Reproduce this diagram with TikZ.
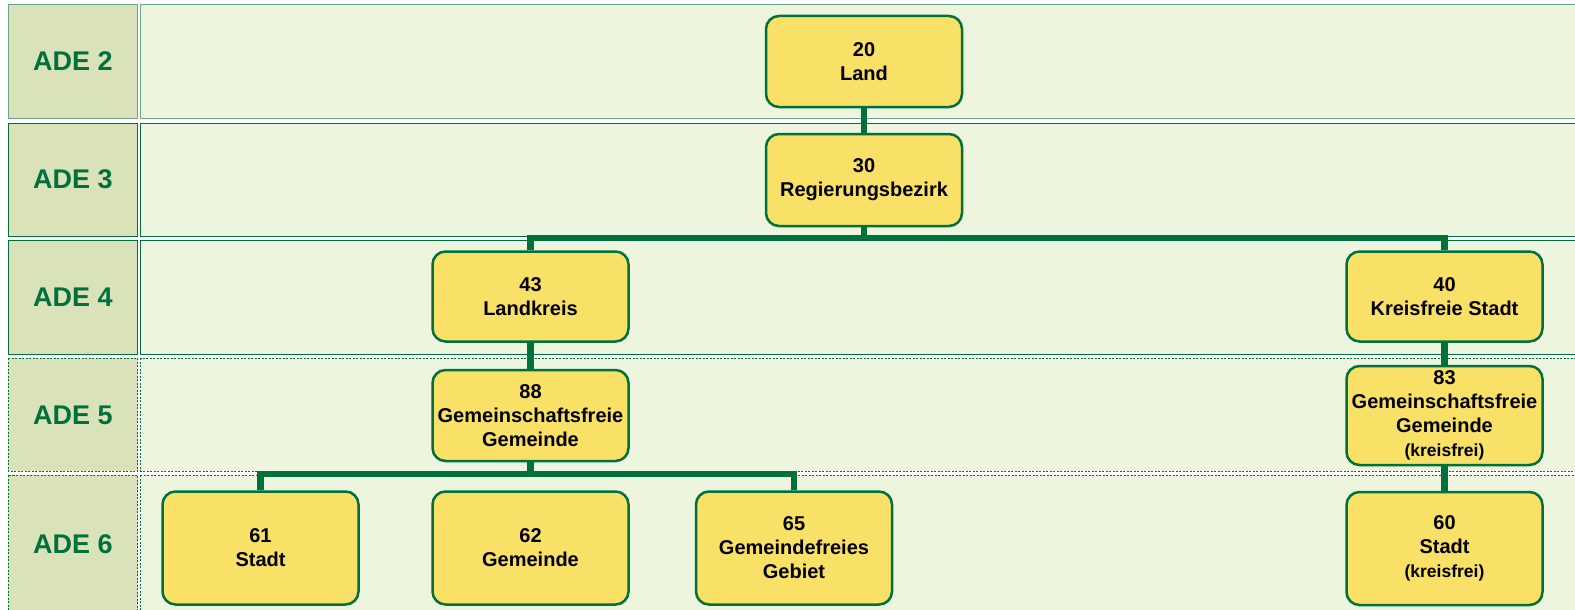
\documentclass[tikz,border=0pt]{standalone}
\usepackage{fontspec}
\setmainfont{Liberation Sans}
\definecolor{adegreen}{HTML}{00703C}
\definecolor{adeyellow}{HTML}{F9E066}
\definecolor{adeolive}{HTML}{DAE2BA}
\definecolor{adepale}{HTML}{EDF5DF}
\definecolor{adeline}{HTML}{6FA585}
\begin{document}
\begin{tikzpicture}[x=1pt,y=-1pt,
                    unit/.style={draw=adegreen,line width=2.5pt,fill=adeyellow,rounded corners=13pt,
                                 minimum width=196pt,align=center,inner sep=0pt,
                                 font=\fontsize{20}{24}\selectfont\bfseries},
                    level/.style={text=adegreen,font=\fontsize{27}{30}\selectfont\bfseries},
                    link/.style={draw=adegreen,line width=6.5pt},
                    dots/.style={dash pattern=on 2pt off 1.5pt}]

                   \useasboundingbox (0,0) rectangle (1575,610);

                   \draw[adeline,fill=adeolive,line width=1pt] (8,5) rectangle (137.5,118);
                   \draw[adeline,fill=adepale,line width=1pt] (140.5,5) rectangle (1580,118);
                   \draw[adegreen,fill=adeolive,line width=1pt] (8,123) rectangle (137.5,236);
                   \draw[adegreen,fill=adepale,line width=1pt] (140.5,123) rectangle (1580,236);
                   \draw[adegreen,fill=adeolive,line width=1pt] (8,240) rectangle (137.5,354);
                   \draw[adegreen,fill=adepale,line width=1pt] (140.5,240) rectangle (1580,354);
                   \draw[adegreen,fill=adeolive,line width=0.9pt,dots] (8,358) rectangle (137.5,471);
                   \draw[adegreen,fill=adepale,line width=0.9pt,dots] (140.5,358) rectangle (1580,471);
                   \draw[adegreen,fill=adeolive,line width=0.9pt,dots] (8,475) rectangle (137.5,620);
                   \draw[adegreen,fill=adepale,line width=0.9pt,dots] (140.5,475) rectangle (1580,620);

                   \node[level] (ade2) at (73,61.5) {ADE 2};
                   \node[level] (ade3) at (73,179.5) {ADE 3};
                   \node[level] (ade4) at (73,297) {ADE 4};
                   \node[level] (ade5) at (73,415) {ADE 5};
                   \node[level] (ade6) at (73,544) {ADE 6};

                   \node[unit,minimum height=91pt] (land) at (864,61.5) {20\\Land};
                   \node[unit,minimum height=92pt] (rbez) at (864,180) {30\\Regierungsbezirk};
                   \node[unit,minimum height=90pt] (lkreis) at (530.5,296.5) {43\\Landkreis};
                   \node[unit,minimum height=90pt] (kstadt) at (1444.5,296.5) {40\\Kreisfreie Stadt};
                   \node[unit,minimum height=91pt] (gfrei) at (530.5,415.5) {88\\Gemeinschaftsfreie\\Gemeinde};
                   \node[unit,minimum height=99pt] (gkfrei) at (1444.5,415.5)
                        {83\\Gemeinschaftsfreie\\Gemeinde\\{\fontsize{17.5}{21}\selectfont(kreisfrei)}};
                   \node[unit,minimum height=113pt] (stadt) at (260.5,548) {61\\Stadt};
                   \node[unit,minimum height=113pt] (gem) at (530.5,548) {62\\Gemeinde};
                   \node[unit,minimum height=113pt] (gebiet) at (794,548) {65\\Gemeindefreies\\Gebiet};
                   \node[unit,minimum height=113pt] (kstadt60) at (1444.5,548.5)
                        {60\\Stadt\\{\fontsize{17.5}{21}\selectfont(kreisfrei)}};

                   \coordinate (bus4) at (864,238);
                   \coordinate (bus6) at (530.5,474);

                   \draw[link] (land) -- (rbez);
                   \draw[link] (rbez) -- (bus4);
                   \draw[link] (lkreis.north) |- (bus4) -| (kstadt.north);
                   \draw[link] (lkreis) -- (gfrei);
                   \draw[link] (kstadt) -- (gkfrei);
                   \draw[link] (gkfrei) -- (kstadt60);
                   \draw[link] (gfrei) -- (bus6);
                   \draw[link] (stadt.north) |- (bus6) -| (gebiet.north);

                  \end{tikzpicture}
\end{document}
